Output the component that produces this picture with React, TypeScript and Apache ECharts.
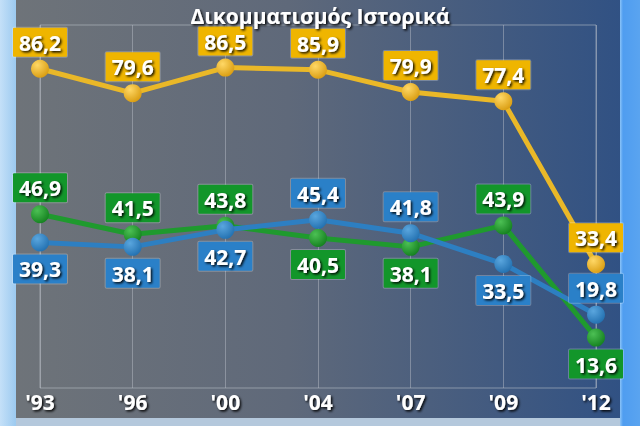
import React, { useEffect, useRef } from "react";
import * as echarts from "echarts";

// election years shown on the x axis
const years = ["'93", "'96", "'00", "'04", "'07", "'09", "'12"];

// combined share of the two big parties
const totalValues = [86.2, 79.6, 86.5, 85.9, 79.9, 77.4, 33.4];
// green line
const greenValues = [46.9, 41.5, 43.8, 40.5, 38.1, 43.9, 13.6];
// blue line
const blueValues = [39.3, 38.1, 42.7, 45.4, 41.8, 33.5, 19.8];

// where each value box sits relative to its point
const totalLabelPos = ["top", "top", "top", "top", "top", "top", "top"];
const greenLabelPos = ["top", "top", "top", "bottom", "bottom", "top", "bottom"];
const blueLabelPos = ["bottom", "bottom", "bottom", "top", "top", "bottom", "top"];

const FONT = "'Open Sans', 'DejaVu Sans', sans-serif";

const shadow = {
  textShadowColor: "rgba(0,0,0,0.95)",
  textShadowBlur: 2,
  textShadowOffsetX: 1.5,
  textShadowOffsetY: 1.5,
};

const ball = (light: string, dark: string) =>
  new echarts.graphic.RadialGradient(0.35, 0.3, 0.75, [
    { offset: 0, color: light },
    { offset: 1, color: dark },
  ]);

const makeSeries = (
  name: string,
  values: number[],
  positions: string[],
  lineColor: string,
  light: string,
  dark: string,
  boxColor: string,
  z: number
) => ({
  name,
  type: "line",
  z,
  symbol: "circle",
  symbolSize: 18,
  lineStyle: { color: lineColor, width: 5 },
  itemStyle: { color: ball(light, dark) },
  data: values.map((v, i) => ({
    value: v,
    label: { position: positions[i] },
  })),
  label: {
    show: true,
    distance: 3,
    formatter: (p: any) => String(p.value).replace(".", ","),
    color: "#ffffff",
    fontFamily: FONT,
    fontWeight: "bold",
    fontSize: 21,
    lineHeight: 24,
    backgroundColor: boxColor,
    borderColor: "rgba(255,255,255,0.25)",
    borderWidth: 1,
    borderRadius: 1,
    padding: [3, 6, 2, 6],
    ...shadow,
  },
});

const App = () => {
  const chartRef = useRef<HTMLDivElement>(null);

  useEffect(() => {
    if (!chartRef.current) return;
    const chart = echarts.init(chartRef.current, null, { renderer: "svg" });

    const option = {
      animation: false,
      backgroundColor: new echarts.graphic.LinearGradient(0, 0, 1, 0, [
        { offset: 0, color: "#6f7479" },
        { offset: 0.45, color: "#5f697a" },
        { offset: 1, color: "#2e5084" },
      ]),
      title: {
        text: "Δικομματισμός Ιστορικά",
        left: "center",
        top: 0,
        textStyle: {
          color: "#ffffff",
          fontFamily: FONT,
          fontWeight: "bold",
          fontSize: 21,
          ...shadow,
        },
      },
      graphic: [
        {
          type: "rect",
          shape: { x: 0, y: 0, width: 16, height: 426 },
          style: {
            fill: new echarts.graphic.LinearGradient(0, 0, 1, 0, [
              { offset: 0, color: "#c4e0f8" },
              { offset: 1, color: "#9ccaf0" },
            ]),
          },
        },
        {
          type: "rect",
          shape: { x: 620, y: 0, width: 20, height: 426 },
          style: {
            fill: new echarts.graphic.LinearGradient(0, 0, 1, 0, [
              { offset: 0, color: "#8cc4f8" },
              { offset: 0.15, color: "#4f9df0" },
              { offset: 1, color: "#5aa4f0" },
            ]),
          },
        },
        {
          type: "rect",
          shape: { x: 16, y: 418, width: 604, height: 8 },
          style: { fill: "#b4c8dc" },
        },
      ],
      grid: {
        left: 40,
        right: 44,
        top: 25,
        bottom: 38,
        show: true,
        borderColor: "rgba(190,196,204,0.55)",
        borderWidth: 1,
      },
      xAxis: {
        type: "category",
        data: years,
        boundaryGap: false,
        axisLine: { show: false },
        axisTick: { show: false },
        splitLine: {
          show: true,
          lineStyle: { color: "rgba(190,196,204,0.45)", width: 1 },
        },
        axisLabel: {
          margin: 3,
          color: "#ffffff",
          fontFamily: FONT,
          fontWeight: "bold",
          fontSize: 21,
          ...shadow,
        },
      },
      yAxis: {
        type: "value",
        min: 0,
        max: 98,
        show: false,
        splitLine: { show: false },
      },
      series: [
        makeSeries("total", totalValues, totalLabelPos, "#eab828", "#ffd866", "#d99c10", "#efb500", 3),
        makeSeries("green", greenValues, greenLabelPos, "#1f9a2e", "#4cc054", "#14801f", "#12962a", 4),
        makeSeries("blue", blueValues, blueLabelPos, "#2d7fc2", "#5aa6de", "#2270b0", "#2a80c8", 5),
      ],
    };

    chart.setOption(option);
    return () => {
      chart.dispose();
    };
  }, []);

  return (
    <div
      ref={chartRef}
      style={{ position: "fixed", left: 0, top: 0, width: "640px", height: "426px" }}
    ></div>
  );
};

export default App;
